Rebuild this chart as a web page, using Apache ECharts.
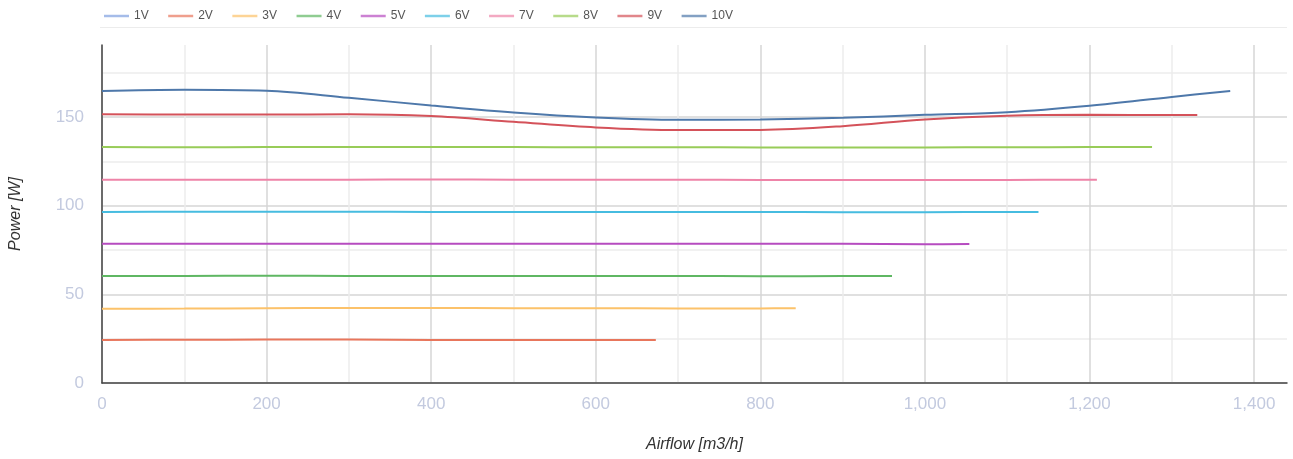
<!DOCTYPE html>
<html>
<head>
<meta charset="utf-8">
<script src="https://cdn.jsdelivr.net/npm/echarts@6/dist/echarts.min.js"></script>
<style>
html,body{margin:0;padding:0;background:#fff;}
#chart{width:1293px;height:459px;}
</style>
</head>
<body>
<div id="chart"></div>
<script>
// ---- data ----
const seriesNames = ['1V','2V','3V','4V','5V','6V','7V','8V','9V','10V'];
const colors = ['#7f9fe0','#e8765c','#fcc26a','#5fb763','#b64cc0','#46bce0','#ee84a8','#98cc58','#d4525a','#4e78aa'];

const airflow1V = [];
const power1V = [];
const airflow2V = [0, 100, 200, 300, 400, 500, 600, 673];
const power2V   = [24.3, 24.4, 24.5, 24.5, 24.3, 24.2, 24.2, 24.2];
const airflow3V = [0, 100, 200, 300, 400, 500, 600, 700, 800, 843];
const power3V   = [41.9, 42.0, 42.2, 42.3, 42.3, 42.2, 42.2, 42.1, 42.1, 42.2];
const airflow4V = [0, 100, 200, 300, 400, 500, 600, 700, 800, 900, 960];
const power4V   = [60.4, 60.4, 60.5, 60.4, 60.4, 60.4, 60.4, 60.4, 60.2, 60.3, 60.4];
const airflow5V = [0, 100, 200, 300, 400, 500, 600, 700, 800, 900, 1000, 1054];
const power5V   = [78.5, 78.5, 78.5, 78.5, 78.6, 78.6, 78.6, 78.6, 78.6, 78.5, 78.3, 78.4];
const airflow6V = [0, 100, 200, 300, 400, 500, 600, 700, 800, 900, 1000, 1100, 1138];
const power6V   = [96.5, 96.6, 96.6, 96.6, 96.5, 96.5, 96.5, 96.5, 96.5, 96.4, 96.4, 96.5, 96.5];
const airflow7V = [0, 100, 200, 300, 400, 500, 600, 700, 800, 900, 1000, 1100, 1209];
const power7V   = [114.7, 114.7, 114.7, 114.7, 114.8, 114.7, 114.7, 114.7, 114.6, 114.6, 114.5, 114.6, 114.7];
const airflow8V = [0, 100, 200, 300, 400, 500, 600, 700, 800, 900, 1000, 1100, 1200, 1276];
const power8V   = [133.1, 133.0, 133.1, 133.1, 133.2, 133.1, 133.0, 133.0, 132.9, 132.8, 132.9, 133.0, 133.1, 133.1];
const airflow9V = [0, 100, 200, 300, 400, 500, 600, 700, 800, 900, 1000, 1100, 1200, 1331];
const power9V   = [151.6, 151.5, 151.5, 151.6, 150.6, 147.4, 144.2, 142.7, 142.8, 144.9, 148.7, 150.8, 151.3, 151.2];
const airflow10V = [0, 100, 200, 300, 400, 500, 600, 700, 800, 900, 1000, 1100, 1200, 1300, 1371];
const power10V   = [164.7, 165.5, 164.9, 160.9, 156.6, 152.6, 149.8, 148.5, 148.7, 149.6, 151.3, 152.8, 156.4, 161.4, 164.8];

const xTickLabels = [0, 200, 400, 600, 800, 1000, 1200, 1400];
const yTickLabels = [0, 50, 100, 150];

const airflows = [airflow1V, airflow2V, airflow3V, airflow4V, airflow5V, airflow6V, airflow7V, airflow8V, airflow9V, airflow10V];
const powers = [power1V, power2V, power3V, power4V, power5V, power6V, power7V, power8V, power9V, power10V];

const chart = echarts.init(document.getElementById('chart'));
const font = 'Liberation Sans, Arial, sans-serif';

const series = seriesNames.map((name, i) => ({
  name: name,
  type: 'line',
  smooth: 0.35,
  showSymbol: false,
  symbol: 'none',
  color: colors[i],
  lineStyle: { width: 2, color: colors[i] },
  data: airflows[i].map((x, j) => [x, powers[i][j]])
}));

chart.setOption({
  animation: false,
  color: colors,
  textStyle: { fontFamily: font },
  legend: {
    data: seriesNames,
    left: 99,
    top: 5,
    itemWidth: 25,
    itemHeight: 2.5,
    itemGap: 19.5,
    icon: 'rect',
    itemStyle: { opacity: 0.7 },
    textStyle: { fontSize: 12, color: '#555', fontFamily: font }
  },
  graphic: [{
    type: 'rect',
    shape: { x: 100, y: 27, width: 1187, height: 1 },
    style: { fill: '#ececec' },
    silent: true
  }],
  grid: { left: 101, right: 6, top: 45, bottom: 76, containLabel: false },
  xAxis: {
    type: 'value',
    min: 0,
    max: 1440,
    interval: 100,
    name: 'Airflow [m3/h]',
    nameLocation: 'middle',
    nameGap: 54,
    nameTextStyle: { fontStyle: 'italic', fontSize: 16, color: '#333', fontFamily: font },
    axisLine: { show: true, lineStyle: { color: '#444', width: 1.5 } },
    axisTick: { show: false },
    axisLabel: {
      margin: 13,
      fontSize: 17,
      color: '#c3cadf',
      showMaxLabel: false,
      formatter: v => xTickLabels.indexOf(v) >= 0 ? v.toLocaleString('en-US') : ''
    },
    splitLine: { show: true, showMaxLine: false, lineStyle: { color: ['#d6d6d6', '#ececec'], width: 1.5 } }
  },
  yAxis: {
    type: 'value',
    min: 0,
    max: 190.7,
    interval: 25,
    name: 'Power [W]',
    nameLocation: 'middle',
    nameRotate: 90,
    nameGap: 78,
    nameTextStyle: { fontStyle: 'italic', fontSize: 16, color: '#333', fontFamily: font },
    axisLine: { show: true, lineStyle: { color: '#444', width: 1.5 } },
    axisTick: { show: false },
    axisLabel: {
      margin: 18,
      fontSize: 17,
      color: '#c3cadf',
      showMaxLabel: false,
      formatter: v => yTickLabels.indexOf(v) >= 0 ? String(v) : ''
    },
    splitLine: { show: true, showMaxLine: false, lineStyle: { color: ['#d6d6d6', '#ececec'], width: 1.5 } }
  },
  series: series
});
</script>
</body>
</html>
